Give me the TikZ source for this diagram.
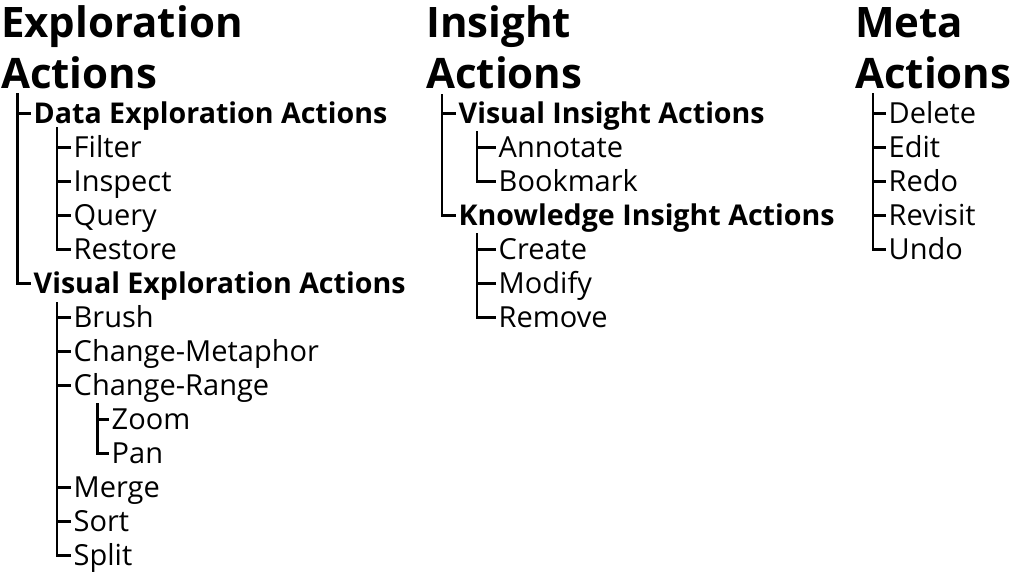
\documentclass[tikz,border=0pt]{standalone}
\usepackage{fontspec}
\setmainfont{Open Sans}
\begin{document}
\begin{tikzpicture}[x=1pt,y=1pt,
  title/.style={anchor=base west, inner sep=0pt, font=\fontsize{42}{46}\selectfont\bfseries},
  item/.style={anchor=west, inner xsep=3pt, inner ysep=0pt, text height=20pt, text depth=0pt,
               font=\fontsize{29}{32}\selectfont},
  group/.style={item, font=\fontsize{28.6}{32}\selectfont\bfseries},
  branch/.style={line width=2.3pt, line cap=butt, line join=miter}]
\useasboundingbox (0,0) rectangle (1016,-576);

% ---- Exploration Actions ----
\node[title] (et1) at (1,-37) {Exploration};
\node[title] (et2) at (1,-88) {Actions};
\node[group] (dea) at (30.5,-113.5) {Data Exploration Actions};
\node[item] (filter)  at (70.5,-147.5) {Filter};
\node[item] (inspect) at (70.5,-181.5) {Inspect};
\node[item] (query)   at (70.5,-215.5) {Query};
\node[item] (restore) at (70.5,-249.5) {Restore};
\node[group] (vea) at (30.5,-283.5) {Visual Exploration Actions};
\node[item] (brush)  at (70.5,-317.5) {Brush};
\node[item] (cmeta)  at (70.5,-351.5) {Change-Metaphor};
\node[item] (crange) at (70.5,-385.5) {Change-Range};
\node[item] (zoom)   at (108.5,-419.5) {Zoom};
\node[item] (pan)    at (108.5,-453.5) {Pan};
\node[item] (merge)  at (70.5,-487.5) {Merge};
\node[item] (sort)   at (70.5,-521.5) {Sort};
\node[item] (split)  at (70.5,-555.5) {Split};

\coordinate (e0) at (17.5,-93);
\coordinate (e1) at (57,-127);
\coordinate (e2) at (57,-302);
\coordinate (e3) at (97.5,-403);

\draw[branch] (e0) |- (vea.west);
\draw[branch] (e0 |- dea.west) -- (dea.west);

\draw[branch] (e1) |- (restore.west);
\foreach \n in {filter,inspect,query}
  \draw[branch] (e1 |- \n.west) -- (\n.west);

\draw[branch] (e2) |- (split.west);
\foreach \n in {brush,cmeta,crange,merge,sort}
  \draw[branch] (e2 |- \n.west) -- (\n.west);

\draw[branch] (e3) |- (pan.west);
\draw[branch] (e3 |- zoom.west) -- (zoom.west);

% ---- Insight Actions ----
\node[title] (it1) at (426,-37) {Insight};
\node[title] (it2) at (426,-88) {Actions};
\node[group] (via) at (455.5,-113.5) {Visual Insight Actions};
\node[item] (annotate) at (495.5,-147.5) {Annotate};
\node[item] (bookmark) at (495.5,-181.5) {Bookmark};
\node[group] (kia) at (455.5,-215.5) {Knowledge Insight Actions};
\node[item] (create) at (495.5,-249.5) {Create};
\node[item] (modify) at (495.5,-283.5) {Modify};
\node[item] (remove) at (495.5,-317.5) {Remove};

\coordinate (i0) at (442,-94);
\coordinate (i1) at (477,-131);
\coordinate (i2) at (477,-233);

\draw[branch] (i0) |- (kia.west);
\draw[branch] (i0 |- via.west) -- (via.west);
\draw[branch] (i1) |- (bookmark.west);
\draw[branch] (i1 |- annotate.west) -- (annotate.west);
\draw[branch] (i2) |- (remove.west);
\foreach \n in {create,modify}
  \draw[branch] (i2 |- \n.west) -- (\n.west);

% ---- Meta Actions ----
\node[title] (mt1) at (855,-37) {Meta};
\node[title] (mt2) at (855,-88) {Actions};
\node[item] (delete)  at (885.5,-113.5) {Delete};
\node[item] (edit)    at (885.5,-147.5) {Edit};
\node[item] (redo)    at (885.5,-181.5) {Redo};
\node[item] (revisit) at (885.5,-215.5) {Revisit};
\node[item] (undo)    at (885.5,-249.5) {Undo};

\coordinate (m0) at (873,-93);
\draw[branch] (m0) |- (undo.west);
\foreach \n in {delete,edit,redo,revisit}
  \draw[branch] (m0 |- \n.west) -- (\n.west);
\end{tikzpicture}
\end{document}
